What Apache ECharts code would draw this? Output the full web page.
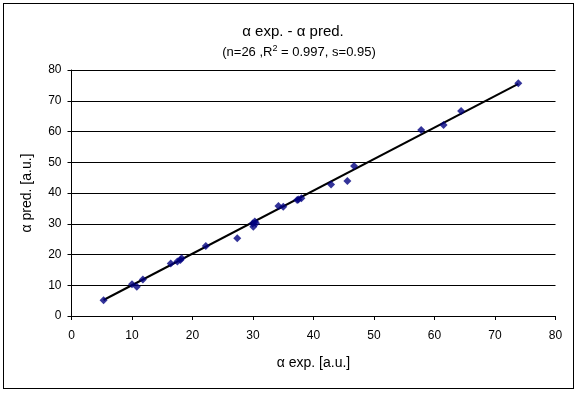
<!DOCTYPE html>
<html><head><meta charset="utf-8">
<script src="https://cdn.jsdelivr.net/npm/echarts@6/dist/echarts.min.js"></script>
<style>html,body{margin:0;padding:0;background:#fff}#c{width:578px;height:393px}
#frame{position:absolute;left:3px;top:3px;width:569px;height:384px;border:1px solid #000;pointer-events:none}</style>
</head><body><div id="c"></div><div id="frame"></div>
<script>
const expValues = [5.3, 10.0, 10.8, 11.8, 16.4, 17.5, 18.0, 18.2, 22.2, 27.4, 29.95, 30.05, 30.3, 30.5, 34.2, 35.0, 37.3, 38.0, 42.9, 45.6, 46.7, 57.8, 61.5, 64.4, 73.85, 37.5];
const predValues = [5.1, 10.3, 9.5, 11.9, 17.1, 17.7, 18.2, 18.8, 22.8, 25.3, 30.1, 29.0, 30.7, 30.2, 35.8, 35.5, 37.7, 38.3, 42.8, 43.9, 48.8, 60.5, 62.1, 66.7, 75.7, 37.9];
const trendX = [5.3, 73.85];
const trendY = [5.2, 75.5];
const xTicks = [0, 10, 20, 30, 40, 50, 60, 70, 80];
const yTicks = [0, 10, 20, 30, 40, 50, 60, 70, 80];

const chart = echarts.init(document.getElementById('c'));
const font = 'Liberation Sans, Arial, sans-serif';
chart.setOption({
  animation: false,
  backgroundColor: '#fff',
  title: [{
    text: 'α exp. - α pred.',
    left: 288, top: 19, textAlign: 'center',
    textStyle: {fontFamily: font, fontSize: 15, fontWeight: 'normal', color: '#000'}
  }, {
    text: '(n=26 ,R{s|2} = 0.997, s=0.95)',
    left: 294, top: 39, textAlign: 'center',
    textStyle: {fontFamily: font, fontSize: 13, fontWeight: 'normal', color: '#000',
      rich: {s: {fontFamily: font, fontSize: 9, verticalAlign: 'top', padding: [0,0,7,0], color:'#000'}}}
  }],
  grid: {left: 71.5, right: 22.5, top: 70, bottom: 77},
  xAxis: {
    type: 'value', min: xTicks[0], max: xTicks[xTicks.length-1], interval: 10,
    name: 'α exp. [a.u.]', nameLocation: 'middle', nameGap: 40,
    nameTextStyle: {fontFamily: font, fontSize: 14, color: '#000'},
    axisLine: {show: true, lineStyle: {color: '#000', width: 1}},
    axisTick: {show: true, length: 4, inside: false, lineStyle: {color: '#000'}},
    axisLabel: {fontFamily: font, fontSize: 12, color: '#000', margin: 14},
    splitLine: {show: false}
  },
  yAxis: {
    type: 'value', min: yTicks[0], max: yTicks[yTicks.length-1], interval: 10,
    name: 'α pred. [a.u.]', nameLocation: 'middle', nameGap: 37, nameRotate: 90,
    nameTextStyle: {fontFamily: font, fontSize: 14, color: '#000'},
    axisLine: {show: true, lineStyle: {color: '#000', width: 1}},
    axisTick: {show: true, length: 4, lineStyle: {color: '#000'}},
    axisLabel: {fontFamily: font, fontSize: 12, color: '#000', margin: 10},
    splitLine: {show: true, lineStyle: {color: '#000', width: 1}}
  },
  series: [{
    type: 'line', data: trendX.map((x, i) => [x, trendY[i]]),
    symbol: 'none', lineStyle: {color: '#000', width: 2}, z: 2
  }, {
    type: 'scatter', data: expValues.map((x, i) => [x, predValues[i]]),
    symbol: 'diamond', symbolSize: 8, itemStyle: {color: '#000080'}, z: 3
  }]
});
</script></body></html>
